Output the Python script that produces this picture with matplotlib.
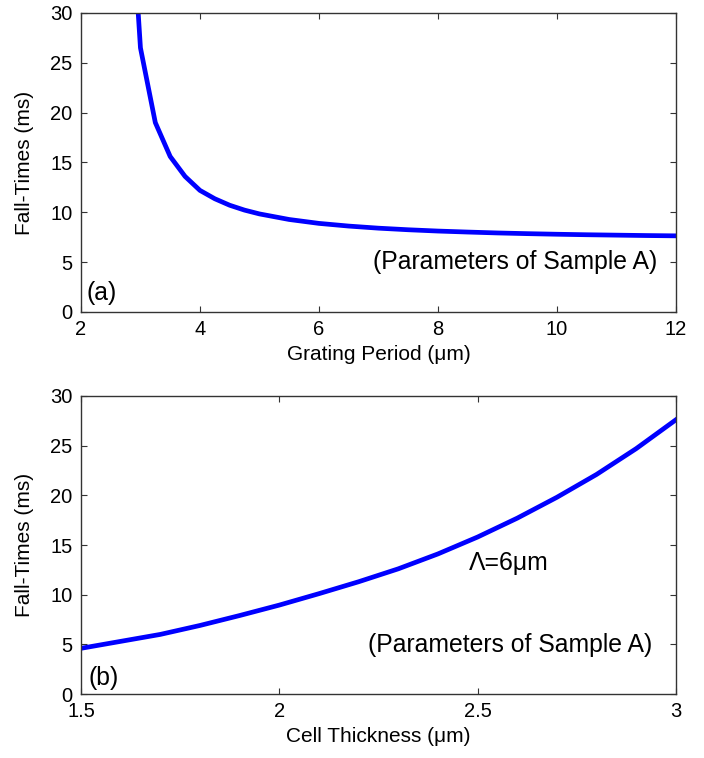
import matplotlib
matplotlib.use("Agg")
import matplotlib.pyplot as plt

plt.rcParams['font.family'] = ['Liberation Sans', 'DejaVu Sans']

# (a) fall time versus grating period
grating_period = [2.75, 3.0, 3.25, 3.5, 3.75, 4.0, 4.25, 4.5, 4.75, 5.0, 5.5, 6.0,
                  6.5, 7.0, 7.5, 8.0, 8.5, 9.0, 9.5, 10.0, 10.5, 11.0, 11.5, 12.0]
fall_time_a = [49.7, 26.5, 19.0, 15.6, 13.6, 12.2, 11.36, 10.71, 10.22, 9.84, 9.28, 8.89,
               8.62, 8.41, 8.25, 8.12, 8.02, 7.93, 7.86, 7.80, 7.75, 7.71, 7.67, 7.64]

# (b) fall time versus cell thickness
cell_thickness = [1.5, 1.6, 1.7, 1.8, 1.9, 2.0, 2.1, 2.2, 2.3, 2.4, 2.5, 2.6, 2.7, 2.8, 2.9, 3.0]
fall_time_b = [4.6, 5.3, 6.0, 6.9, 7.9, 8.95, 10.1, 11.3, 12.6, 14.1, 15.8, 17.7, 19.8, 22.1, 24.7, 27.6]

x_ticks_a = [2, 4, 6, 8, 10, 12]
x_ticks_b = [1.5, 2, 2.5, 3]
y_ticks = [0, 5, 10, 15, 20, 25, 30]

fig = plt.figure(figsize=(7.04, 7.58), dpi=100)
ax1 = fig.add_axes([0.115, 0.5884, 0.845, 0.3945])
ax2 = fig.add_axes([0.115, 0.0844, 0.845, 0.3932])

line_kw = dict(color=(0, 0, 1), lw=3.4, solid_joinstyle='round', clip_on=True)
tick_fs = 14.5
label_fs = 15
note_fs = 17.8

for ax in (ax1, ax2):
    ax.set_ylim(0, 30)
    ax.set_yticks(y_ticks)
    ax.tick_params(direction='in', top=True, right=True, length=4, width=0.8,
                   labelsize=tick_fs, pad=6, color='#333333')
    for s in ax.spines.values():
        s.set_linewidth(1.0)
        s.set_color('#333333')
    ax.set_ylabel('Fall-Times (ms)', fontsize=label_fs, labelpad=12)

ax1.plot(grating_period, fall_time_a, **line_kw)
ax1.set_xlim(2, 12)
ax1.set_xticks(x_ticks_a)
ax1.set_xlabel('Grating Period (\u03bcm)', fontsize=label_fs, labelpad=4)
ax1.text(11.68, 5.0, '(Parameters of Sample A)', fontsize=note_fs, ha='right', va='center')
ax1.text(2.09, 1.9, '(a)', fontsize=note_fs, ha='left', va='center')

ax2.plot(cell_thickness, fall_time_b, **line_kw)
ax2.set_xlim(1.5, 3)
ax2.set_xticks(x_ticks_b)
ax2.set_xticklabels(['1.5', '2', '2.5', '3'])
ax2.set_xlabel('Cell Thickness (\u03bcm)', fontsize=label_fs, labelpad=4)
ax2.text(2.477, 13.2, '\u039b=6\u03bcm', fontsize=note_fs, ha='left', va='center')
ax2.text(2.94, 4.9, '(Parameters of Sample A)', fontsize=note_fs, ha='right', va='center')
ax2.text(1.518, 1.6, '(b)', fontsize=note_fs, ha='left', va='center')

fig.savefig('out.png', dpi=100)
